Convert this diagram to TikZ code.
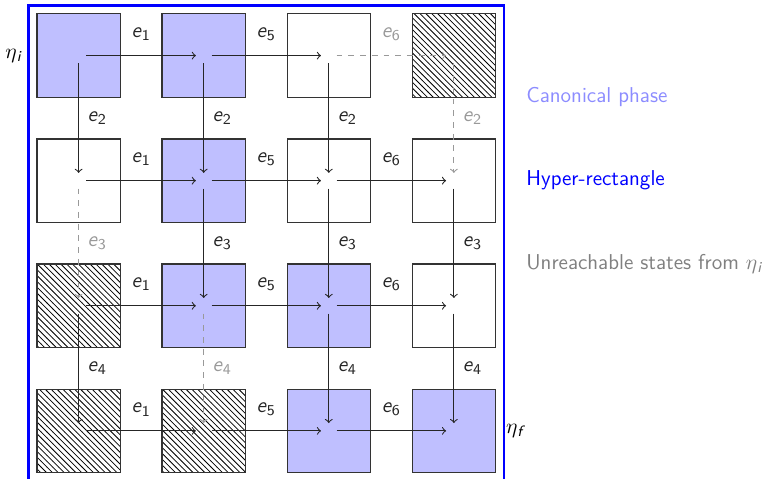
\documentclass[tikz,border=0pt]{standalone}
\usepackage{tikz}
\usetikzlibrary{patterns,fit,positioning}
\newcommand{\ev}[1]{\textit{e}\textsubscript{#1}}
\newcommand{\etaof}[1]{$\eta$\textsubscript{\textit{#1}}}

\begin{document}
\begin{tikzpicture}[
  font=\sffamily\fontsize{11}{13}\selectfont,
  st/.style={draw=black!80, line width=0.6pt, minimum size=1.5cm, inner sep=0pt},
  ph/.style={st, fill=blue!25},
  fr/.style={st, fill=white},
  un/.style={st, pattern=north west lines},
  arr/.style={->, line width=0.55pt, color=black!85, shorten <=4pt, shorten >=4pt},
  dead/.style={arr, dashed, color=black!40},
  hl/.style={midway, above=4pt},
  vl/.style={midway, right=1pt}]
\useasboundingbox (-1.414,1.0) rectangle (12.526,-7.612);
% states, row by row
\foreach \r/\row in {1/{ph,ph,fr,un},2/{fr,ph,fr,fr},3/{un,ph,ph,fr},4/{un,un,ph,ph}}
  \foreach \sty [count=\c] in \row
    \node[\sty] (s\r\c) at ({2.25*(\c-1)},{-2.25*(\r-1)}) {};
\node[draw=blue, line width=1.2pt, fit=(s11)(s44), inner sep=0.14cm] (frame) {};
\node[left=3.5pt of s11] (etai) {\etaof{i}};
\node[right=1.5pt of s44] (etaf) {\etaof{f}};
% legend
\node[anchor=west, text=blue!45] (canon) at (7.93,-0.75) {Canonical phase};
\node[anchor=west, text=blue] (hyper) at (7.93,-2.25) {Hyper-rectangle};
\node[anchor=west, text=gray] (unreach) at (7.93,-3.75) {Unreachable states from \etaof{i}};
% horizontal moves
\foreach \r in {1,...,4} {
  \draw[arr] (s\r1.center) -- node[hl] {\ev1} (s\r2.center);
  \draw[arr] (s\r2.center) -- node[hl] {\ev5} (s\r3.center);
}
\foreach \r in {2,3,4} \draw[arr] (s\r3.center) -- node[hl] {\ev6} (s\r4.center);
\draw[dead] (s13.center) -- node[hl] {\ev6} (s14.center);
% vertical moves
\foreach \c in {1,2,3} \draw[arr] (s1\c.center) -- node[vl] {\ev2} (s2\c.center);
\draw[dead] (s14.center) -- node[vl] {\ev2} (s24.center);
\foreach \c in {2,3,4} \draw[arr] (s2\c.center) -- node[vl] {\ev3} (s3\c.center);
\draw[dead] (s21.center) -- node[vl] {\ev3} (s31.center);
\foreach \c in {1,3,4} \draw[arr] (s3\c.center) -- node[vl] {\ev4} (s4\c.center);
\draw[dead] (s32.center) -- node[vl] {\ev4} (s42.center);
\end{tikzpicture}
\end{document}
